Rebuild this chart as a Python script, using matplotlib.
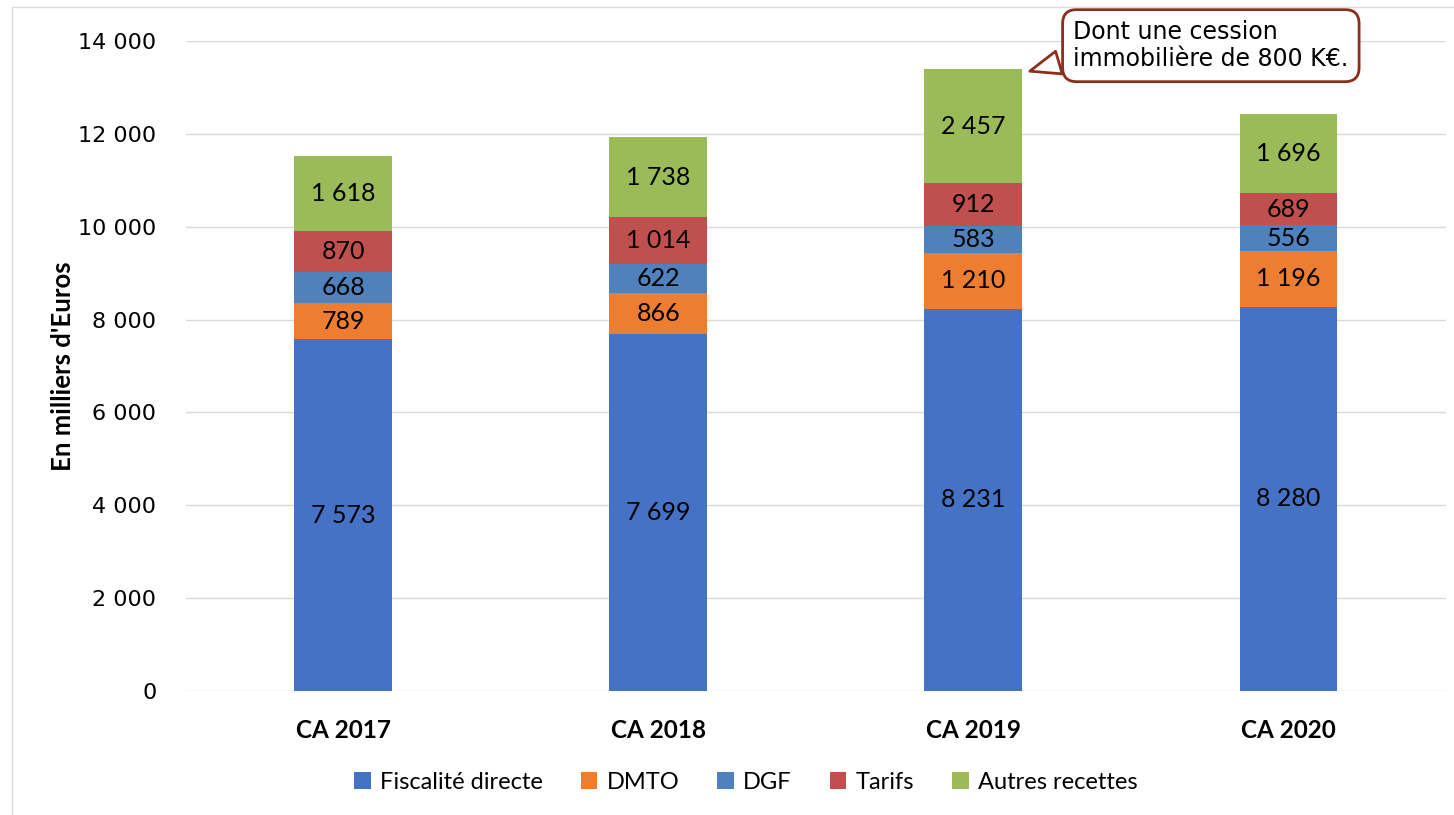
"""
    Recettes de fonctionnement par compte administratif (stacked bars).
"""

import matplotlib.pyplot as plt
from matplotlib.patches import Rectangle

CATEGORIES = ["CA 2017", "CA 2018", "CA 2019", "CA 2020"]
FISCALITE = [7573, 7699, 8231, 8280]
DMTO = [789, 866, 1210, 1196]
DGF = [668, 622, 583, 556]
TARIFS = [870, 1014, 912, 689]
AUTRES = [1618, 1738, 2457, 1696]

SERIES = [
    ("Fiscalité directe", FISCALITE, "#4472C4"),
    ("DMTO", DMTO, "#ED7D31"),
    ("DGF", DGF, "#4F81BD"),
    ("Tarifs", TARIFS, "#C0504D"),
    ("Autres recettes", AUTRES, "#9BBB59"),
]
Y_TICKS = [0, 2000, 4000, 6000, 8000, 10000, 12000, 14000]
NOTE = "Dont une cession\nimmobilière de 800 K€."


def fmt(v):
    return f"{v:,}".replace(",", " ")


def main():
    fig = plt.figure(figsize=(14.54, 8.15), dpi=100)
    ax = fig.add_axes([0.1276, 0.1521, 0.8669, 0.7976])

    x = list(range(len(CATEGORIES)))
    width = 0.31
    bottom = [0] * len(CATEGORIES)
    for name, values, color in SERIES:
        bars = ax.bar(x, values, width, bottom=bottom, color=color, label=name, zorder=2)
        ax.bar_label(bars, labels=[fmt(v) for v in values], label_type="center",
                     fontsize=18, family="Lato", color="black")
        bottom = [b + v for b, v in zip(bottom, values)]

    ax.set_xlim(-0.5, len(CATEGORIES) - 0.5)
    ax.set_ylim(0, 14000)
    ax.set_yticks(Y_TICKS)
    ax.set_yticklabels([fmt(t) for t in Y_TICKS], fontsize=16, family="DejaVu Sans")
    ax.set_xticks(x)
    ax.set_xticklabels(CATEGORIES, fontsize=17.5, family="Lato", fontweight="bold")
    ax.tick_params(length=0)
    ax.tick_params(axis="y", pad=21)
    ax.tick_params(axis="x", pad=20)
    ax.grid(axis="y", color="#D9D9D9", lw=1, zorder=0)
    for s in ax.spines.values():
        s.set_visible(False)
    ax.set_ylabel("En milliers d'Euros", fontsize=18.5, family="Lato", fontweight="bold", labelpad=2)

    # callout on CA 2019
    top_2019 = bottom[2]
    ax.annotate(NOTE, xy=(2 + width / 2 + 0.016, top_2019 - 60), xytext=(2.317, 13900),
                textcoords="data", ha="left", va="center", fontsize=17,
                family="DejaVu Sans", linespacing=1.15,
                bbox=dict(boxstyle="round,pad=0.45,rounding_size=0.6", fc="white",
                          ec="#8B2F1C", lw=2),
                arrowprops=dict(arrowstyle="wedge,tail_width=1.0,shrink_factor=0.5",
                                fc="white", ec="#8B2F1C", lw=2, relpos=(0, 0.25)),
                zorder=5, annotation_clip=False)

    fig.legend(loc="center", bbox_to_anchor=(0.513, 0.04), ncol=5, frameon=False,
               prop={"family": "Lato", "size": 17}, handlelength=0.7,
               handleheight=0.7, handletextpad=0.4, columnspacing=1.6)

    fig.add_artist(Rectangle((12 / 1454, -0.5), 2, 1.5 - 7 / 815, transform=fig.transFigure,
                             fill=False, ec="#D9D9D9", lw=1))

    plt.savefig("out.png", dpi=100)


if __name__ == "__main__":
    main()
